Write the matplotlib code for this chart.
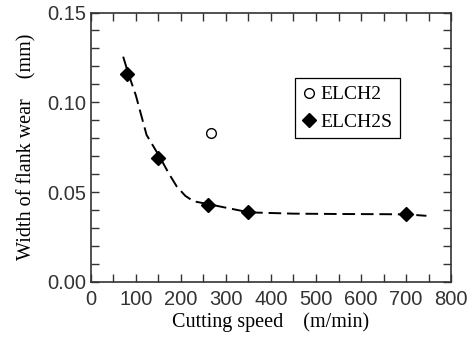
import numpy as np
import matplotlib
matplotlib.use("Agg")
import matplotlib.pyplot as plt
from matplotlib.ticker import MultipleLocator, FormatStrFormatter

# data
speed_2s = [80, 150, 260, 350, 700]
wear_2s = [0.116, 0.069, 0.043, 0.039, 0.038]
speed_2 = [268]
wear_2 = [0.083]

# dashed trend curve
curve_x = [72, 84, 100, 124, 154, 173, 191, 210, 228, 261, 324, 352, 450, 550, 650, 700, 745]
curve_y = [0.1254, 0.1156, 0.104, 0.0818, 0.0692, 0.0605, 0.0531, 0.0479, 0.0449,
           0.0433, 0.0401, 0.0387, 0.0380, 0.0378, 0.0377, 0.0376, 0.0368]

serif = "Liberation Serif"
sans = "Liberation Sans"

fig = plt.figure(figsize=(4.7, 3.38), dpi=100)
ax = fig.add_axes([0.193, 0.166, 0.767, 0.797])

ax.plot(curve_x, curve_y, color="black", lw=1.4, ls=(0, (6.5, 3)))
ax.plot(speed_2, wear_2, ls="none", marker="o", ms=7, mfc="white", mec="black",
        mew=1.0, label="ELCH2")
ax.plot(speed_2s, wear_2s, ls="none", marker="D", ms=7.5, mfc="black", mec="black",
        label="ELCH2S")

ax.set_xlim(0, 800)
ax.set_ylim(0, 0.15)
ax.xaxis.set_major_locator(MultipleLocator(100))
ax.xaxis.set_minor_locator(MultipleLocator(50))
ax.yaxis.set_major_locator(MultipleLocator(0.05))
ax.yaxis.set_minor_locator(MultipleLocator(0.01))
ax.yaxis.set_major_formatter(FormatStrFormatter("%.2f"))

ax.tick_params(which="both", direction="in", top=True, right=True, length=5.5,
               width=1.0, color="#333333")
ax.tick_params(axis="x", pad=6)
ax.tick_params(axis="y", pad=3)
for lab in ax.get_xticklabels() + ax.get_yticklabels():
    lab.set_fontfamily(sans)
    lab.set_fontsize(14.5)
    lab.set_color("#333333")
for sp in ax.spines.values():
    sp.set_linewidth(1.2)
    sp.set_color("#333333")

ax.set_xlabel("Cutting speed    (m/min)", fontfamily=serif, fontsize=14.5, labelpad=2)
ax.set_ylabel("Width of flank wear    (mm)", fontfamily=serif, fontsize=14.5, labelpad=8)

leg = ax.legend(loc="upper left", bbox_to_anchor=(0.567, 0.757), frameon=True,
                fancybox=False, edgecolor="black", framealpha=1,
                prop={"family": serif, "size": 14}, handlelength=0.6,
                handletextpad=0.3, borderpad=0.4, labelspacing=0.5,
                borderaxespad=0)
leg.get_frame().set_linewidth(0.9)

fig.savefig("out.png", dpi=100)
